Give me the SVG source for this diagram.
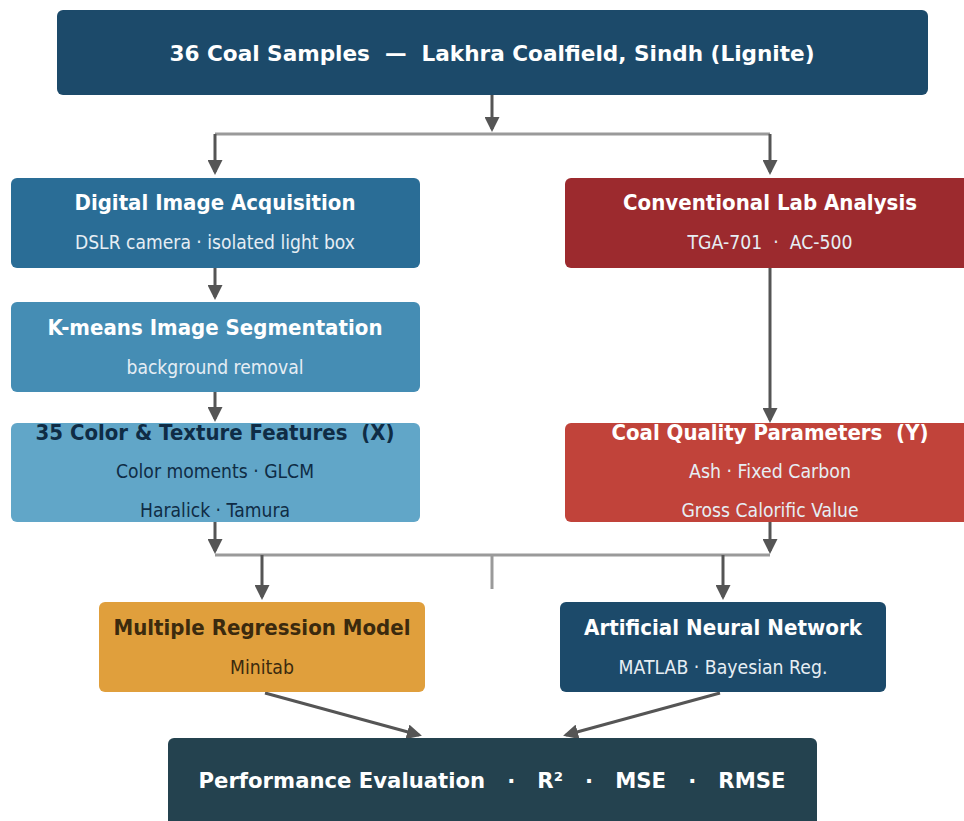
<svg xmlns="http://www.w3.org/2000/svg" width="964" height="821" viewBox="0 0 964 821" xml:space="preserve">
<defs>
<style>
text{white-space:pre}
.t{font-family:"DejaVu Sans","Liberation Sans",sans-serif;font-weight:bold;font-size:21px;text-anchor:middle}
.s{font-family:"DejaVu Sans","Liberation Sans",sans-serif;font-size:19px;text-anchor:middle}
.w{fill:#ffffff}
.sw{fill:#e6eef4}
.d{fill:#0f2c45}
.br{fill:#3b2a0e}
.arr{stroke:#555555;stroke-width:3;fill:none;marker-end:url(#ah)}
.bus{stroke:#9a9a9a;stroke-width:3;fill:none}
</style>
<marker id="ah" markerWidth="5" markerHeight="5" refX="4" refY="2.5" orient="auto" markerUnits="strokeWidth">
<path d="M0,0 L5,2.5 L0,5 Z" fill="#555555"/>
</marker>
</defs>
<rect width="964" height="821" fill="#ffffff"/>
<g id="connectors">
<line class="bus" x1="215" y1="134" x2="770" y2="134"/>
<line class="arr" x1="492" y1="95" x2="492" y2="129"/>
<line class="arr" x1="215" y1="134" x2="215" y2="172"/>
<line class="arr" x1="770" y1="134" x2="770" y2="172"/>
<line class="arr" x1="215" y1="268" x2="215" y2="297"/>
<line class="arr" x1="215" y1="392" x2="215" y2="419"/>
<line class="arr" x1="770" y1="268" x2="770" y2="420"/>
<line class="bus" x1="215" y1="555" x2="770" y2="555"/>
<line class="arr" x1="215" y1="522" x2="215" y2="551"/>
<line class="arr" x1="770" y1="522" x2="770" y2="551"/>
<line class="bus" x1="492" y1="555" x2="492" y2="589" stroke-width="2"/>
<line class="arr" x1="262" y1="555" x2="262" y2="597"/>
<line class="arr" x1="723" y1="555" x2="723" y2="597"/>
<line class="arr" x1="265" y1="693" x2="419" y2="735"/>
<line class="arr" x1="720" y1="693" x2="566" y2="735"/>
</g>
<g id="samples">
<rect x="57" y="10" width="871" height="85" rx="6" fill="#1c4a6a"/>
<text class="t w" x="492" y="61" font-size="24" textLength="645" lengthAdjust="spacingAndGlyphs">36 Coal Samples  —  Lakhra Coalfield, Sindh (Lignite)</text>
</g>
<g id="acquisition">
<rect x="11" y="178" width="409" height="90" rx="6" fill="#2a6d96"/>
<text class="t w" x="215" y="210" textLength="281" lengthAdjust="spacingAndGlyphs">Digital Image Acquisition</text>
<text class="s sw" x="215" y="249" textLength="280" lengthAdjust="spacingAndGlyphs">DSLR camera · isolated light box</text>
</g>
<g id="kmeans">
<rect x="11" y="302" width="409" height="90" rx="6" fill="#458db4"/>
<text class="t w" x="215" y="335" textLength="335" lengthAdjust="spacingAndGlyphs">K-means Image Segmentation</text>
<text class="s sw" x="215" y="374" textLength="177" lengthAdjust="spacingAndGlyphs">background removal</text>
</g>
<g id="features">
<rect x="11" y="423" width="409" height="99" rx="6" fill="#61a6c8"/>
<text class="t d" x="215" y="440" textLength="359" lengthAdjust="spacingAndGlyphs">35 Color &amp; Texture Features  (X)</text>
<text class="s d" x="215" y="478" textLength="198" lengthAdjust="spacingAndGlyphs">Color moments · GLCM</text>
<text class="s d" x="215" y="517" textLength="150" lengthAdjust="spacingAndGlyphs">Haralick · Tamura</text>
</g>
<g id="lab">
<rect x="565" y="178" width="410" height="90" rx="6" fill="#9c2a2e"/>
<text class="t w" x="770" y="210" textLength="294" lengthAdjust="spacingAndGlyphs">Conventional Lab Analysis</text>
<text class="s sw" x="770" y="249" textLength="165" lengthAdjust="spacingAndGlyphs">TGA-701  ·  AC-500</text>
</g>
<g id="quality">
<rect x="565" y="423" width="410" height="99" rx="6" fill="#c1433a"/>
<text class="t w" x="770" y="440" textLength="317" lengthAdjust="spacingAndGlyphs">Coal Quality Parameters  (Y)</text>
<text class="s sw" x="770" y="478" textLength="162" lengthAdjust="spacingAndGlyphs">Ash · Fixed Carbon</text>
<text class="s sw" x="770" y="517" textLength="177" lengthAdjust="spacingAndGlyphs">Gross Calorific Value</text>
</g>
<g id="mlr">
<rect x="99" y="602" width="326" height="90" rx="6" fill="#e09f3c"/>
<text class="t br" x="262" y="635" textLength="297" lengthAdjust="spacingAndGlyphs">Multiple Regression Model</text>
<text class="s br" x="262" y="674" textLength="64" lengthAdjust="spacingAndGlyphs">Minitab</text>
</g>
<g id="ann">
<rect x="560" y="602" width="326" height="90" rx="6" fill="#1c4a6a"/>
<text class="t w" x="723" y="635" textLength="278" lengthAdjust="spacingAndGlyphs">Artificial Neural Network</text>
<text class="s sw" x="723" y="674" textLength="209" lengthAdjust="spacingAndGlyphs">MATLAB · Bayesian Reg.</text>
</g>
<g id="evaluation">
<rect x="168" y="738" width="649" height="95" rx="6" fill="#24424f"/>
<text class="t w" x="492" y="788" font-size="23" textLength="587" lengthAdjust="spacingAndGlyphs">Performance Evaluation   ·   R²   ·   MSE   ·   RMSE</text>
</g>
</svg>
